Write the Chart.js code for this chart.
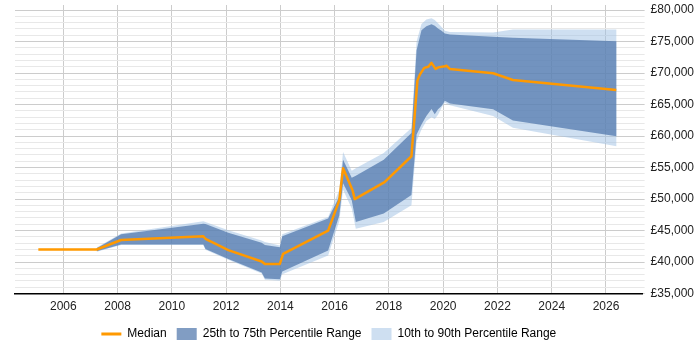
<!DOCTYPE html>
<html>
<head>
<meta charset="utf-8">
<script src="https://cdn.jsdelivr.net/npm/chart.js@4"></script>
<style>
  body { margin: 0; background: #fff; }
  #wrap { width: 700px; height: 350px; }
</style>
</head>
<body>
<div id="wrap"><canvas id="myChart"></canvas></div>
<script>
// median line (its own x points)
const medianYears = [2005.08, 2007.23, 2008.13, 2011.16, 2011.24, 2012.08, 2013.31, 2013.43, 2013.98, 2014.10,
  2015.76, 2016.17, 2016.31, 2016.66, 2016.74, 2017.84, 2018.83, 2019.05, 2019.14, 2019.30,
  2019.45, 2019.57, 2019.72, 2019.82, 2020.06, 2020.12, 2020.25, 2021.84, 2022.57, 2026.38];
const median = [42000, 42000, 43500, 44100, 43700, 41900, 40100, 39700, 39700, 41300,
  45000, 49800, 54900, 51400, 50000, 52700, 56800, 68800, 69750, 70820,
  71000, 71620, 70660, 70900, 71080, 71150, 70660, 69960, 68900, 67300];

// percentile bands share one set of x points
const bandYears = [2007.23, 2008.13, 2011.16, 2011.24, 2012.08, 2013.31, 2013.43, 2013.98, 2014.07, 2015.76,
  2016.17, 2016.31, 2016.63, 2016.78, 2017.81, 2018.83, 2019.02, 2019.20, 2019.38, 2019.57,
  2019.69, 2019.81, 2019.94, 2020.06, 2020.25, 2021.84, 2022.57, 2026.39];
const p90 = [42300, 44530, 46480, 46370, 45040, 43440, 43170, 42640, 44400, 47170,
  51450, 57470, 54500, 54900, 57300, 61300, 75000, 77800, 78500, 78700,
  78400, 77900, 77300, 76700, 76500, 76450, 76900, 76900];
const p75 = [42200, 44400, 46100, 46050, 44650, 43050, 42730, 42360, 44100, 46900,
  50370, 56250, 53400, 53700, 56250, 60500, 73600, 76800, 77440, 77760,
  77500, 77070, 76700, 76270, 76100, 75750, 75620, 75030];
const p25 = [41720, 42800, 42800, 42090, 40490, 38360, 37400, 37290, 38500, 41840,
  47400, 52500, 49800, 46370, 47700, 50640, 60250, 61850, 63180, 64300,
  63460, 64260, 64790, 65590, 65150, 64250, 62490, 59980];
const p10 = [41650, 42700, 42700, 41970, 40360, 38200, 37190, 37030, 38090, 41030,
  46500, 51500, 48500, 45300, 46370, 49040, 59180, 61050, 62380, 63000,
  62700, 63400, 64500, 65300, 64900, 63180, 61310, 58380];

// y axis: labelled ticks every 5000, light grid lines every 1000
const yLabelTicks = [35000, 40000, 45000, 50000, 55000, 60000, 65000, 70000, 75000, 80000];
const yGridStep = 1000;

const orange = "#ff9900";
const darkBand = "rgba(75, 115, 170, 0.7)";
const lightBand = "rgba(158, 192, 227, 0.5)";
const font = { family: "'Liberation Sans', Arial, sans-serif", size: 12 };

function pts(xs, ys) {
  return xs.map((x, i) => ({ x: x, y: ys[i] }));
}

const ctx = document.getElementById("myChart");

new Chart(ctx, {
  type: "line",
  data: {
    datasets: [
      {
        label: "Median",
        data: pts(medianYears, median),
        borderColor: orange,
        borderWidth: 2.5,
        pointRadius: 0,
        fill: false,
        order: 0,
      },
      {
        label: "25th to 75th Percentile Range",
        data: pts(bandYears, p75),
        borderWidth: 0,
        pointRadius: 0,
        backgroundColor: darkBand,
        fill: "+1",
        order: 1,
      },
      {
        label: "p25",
        data: pts(bandYears, p25),
        borderWidth: 0,
        pointRadius: 0,
        fill: false,
        order: 1,
      },
      {
        label: "10th to 90th Percentile Range",
        data: pts(bandYears, p90),
        borderWidth: 0,
        pointRadius: 0,
        backgroundColor: lightBand,
        fill: "+1",
        order: 2,
      },
      {
        label: "p10",
        data: pts(bandYears, p10),
        borderWidth: 0,
        pointRadius: 0,
        fill: false,
        order: 2,
      },
    ],
  },
  options: {
    responsive: true,
    maintainAspectRatio: false,
    animation: false,
    layout: { padding: { left: 15, right: 0, top: 5, bottom: 0 } },
    elements: { line: { tension: 0, borderJoinStyle: "round" } },
    plugins: {
      tooltip: { enabled: false },
      legend: {
        position: "bottom",
        fullSize: false,
        labels: {
          usePointStyle: true,
          pointStyleWidth: 20,
          boxHeight: 12,
          padding: 10,
          color: "#333",
          font: font,
          generateLabels: function () {
            return [
              { text: "Median", fillStyle: orange, strokeStyle: orange, lineWidth: 3, pointStyle: "line" },
              { text: "25th to 75th Percentile Range", fillStyle: darkBand, strokeStyle: darkBand, lineWidth: 0, pointStyle: "rect" },
              { text: "10th to 90th Percentile Range", fillStyle: lightBand, strokeStyle: lightBand, lineWidth: 0, pointStyle: "rect" },
            ];
          },
        },
      },
    },
    scales: {
      x: {
        type: "linear",
        min: 2004.22,
        max: 2027.35,
        afterFit: function (axis) {
          axis.height -= 2;
        },
        ticks: {
          stepSize: 2,
          includeBounds: false,
          padding: 6,
          color: "#222",
          font: font,
          callback: function (value) {
            return String(Math.round(value));
          },
        },
        grid: { color: "#cccccc", drawTicks: false },
        border: { color: "#000", width: 1.5 },
      },
      y: {
        position: "right",
        min: 35000,
        max: 80800,
        afterBuildTicks: function (axis) {
          const ticks = [];
          for (let v = yLabelTicks[0]; v <= yLabelTicks[yLabelTicks.length - 1]; v += yGridStep) {
            ticks.push({ value: v });
          }
          axis.ticks = ticks;
        },
        afterFit: function (axis) {
          // labels may overhang the plot, no extra room needed
          axis.paddingTop = 0;
          axis.paddingBottom = 0;
        },
        ticks: {
          autoSkip: false,
          padding: 6,
          color: "#222",
          font: font,
          callback: function (value) {
            return yLabelTicks.includes(value) ? "£" + value.toLocaleString("en-GB") : "";
          },
        },
        grid: {
          tickLength: 2,
          color: function (c) {
            return c.tick && yLabelTicks.includes(c.tick.value) ? "#cccccc" : "#e8e8e8";
          },
        },
        border: { display: false },
      },
    },
  },
});
</script>
</body>
</html>
